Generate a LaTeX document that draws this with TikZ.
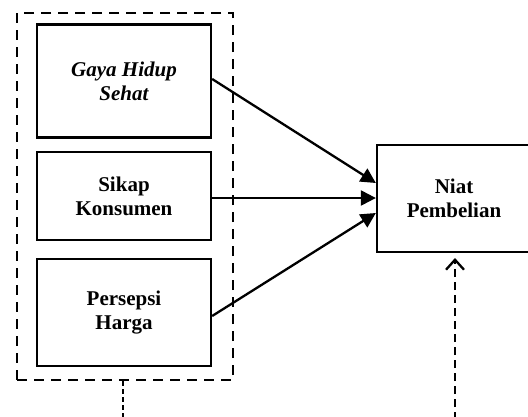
\documentclass[tikz,border=0pt]{standalone}
\usepackage{fontspec}
\setmainfont{Liberation Serif}
\usetikzlibrary{arrows.meta}
\begin{document}
\begin{tikzpicture}[x=1pt,y=-1pt,
  label/.style={font=\fontsize{21}{24}\selectfont\bfseries, align=center},
  varbox/.style={draw, line width=2.3pt, inner sep=0pt, label},
  groupbox/.style={draw, line width=2.3pt, dash pattern=on 10pt off 7pt, inner sep=0pt},
  effect/.style={line width=2.3pt, -{Triangle[length=15pt,width=15pt]}},
  thinlink/.style={line width=1.2pt, dash pattern=on 5pt off 3pt},
  thicklink/.style={line width=2.3pt, dash pattern=on 8pt off 5pt, -{Straight Barb[length=10pt,width=18pt,line width=2.3pt]}}
]
\useasboundingbox (0,0) rectangle (528,416);
\begin{scope}
\clip (0,0) rectangle (528,416);

% independent variables, grouped in a dashed frame
\node[groupbox, minimum width=216pt, minimum height=367pt] (group) at (125,196.5) {};
\node[varbox, minimum width=174pt, minimum height=113pt] (gaya) at (124,81) {\itshape Gaya Hidup\\\itshape Sehat};
\node[varbox, minimum width=174pt, minimum height=88pt] (sikap) at (124,196) {Sikap\\Konsumen};
\node[varbox, minimum width=174pt, minimum height=107pt] (harga) at (124,312.5) {Persepsi\\Harga};

% dependent variable
\node[varbox, minimum width=154pt, minimum height=107pt] (niat) at (454,198.5) {Niat\\Pembelian};

% direct effects
\draw[effect] (gaya.east |- 0,79) -- (niat.west |- 0,183);
\draw[effect] (sikap.east |- 0,198) -- (niat.west |- 0,198);
\draw[effect] (harga.east |- 0,316) -- (niat.west |- 0,213);

% links running off the lower edge
\coordinate (leftend) at (123,420);
\coordinate (rightend) at (455,420);
\coordinate (niattip) at (455,258);
\draw[thinlink] (group.south -| leftend) -- (leftend);
\draw[thicklink] (rightend) -- (niattip);
\end{scope}
\end{tikzpicture}
\end{document}
